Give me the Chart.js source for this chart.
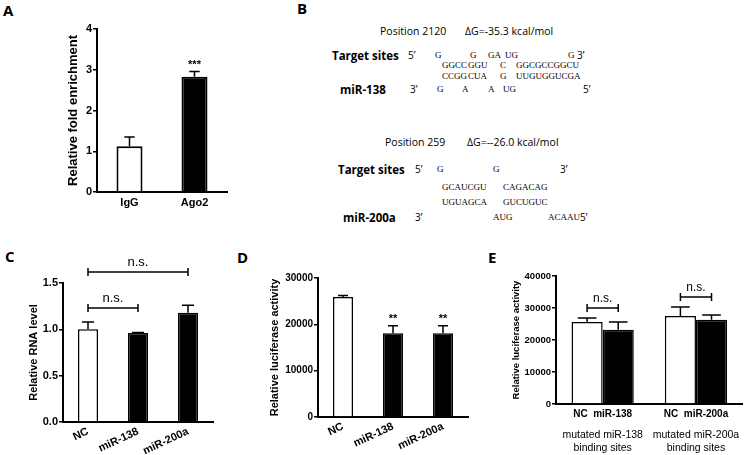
<!DOCTYPE html>
<html>
<head>
<meta charset="utf-8">
<script src="https://cdn.jsdelivr.net/npm/chart.js@4.4.0/dist/chart.umd.min.js"></script>
<style>
  body { margin: 0; background: #fff; }
  #fig { position: relative; width: 750px; height: 455px; overflow: hidden; }
  canvas { position: absolute; }
  .t { position: absolute; white-space: pre; color: #000; line-height: 1; transform: translateY(-50%); }
  .panel { font: bold 15px 'Open Sans', sans-serif; }
  .pos { font: 10.5px 'Open Sans', sans-serif; }
  .lab { font: bold 11.5px 'Open Sans', sans-serif; }
  .end { font: 10px 'Open Sans', sans-serif; }
  .seq { font: 9px 'Liberation Serif', serif; }
</style>
</head>
<body>
<div id="fig">
  <div class="t panel" style="left:3px;top:10px">A</div>
  <div class="t panel" style="left:297px;top:8px">B</div>
  <div class="t panel" style="left:5px;top:256px">C</div>
  <div class="t panel" style="left:237px;top:257px">D</div>
  <div class="t panel" style="left:488px;top:257px">E</div>

  <!-- B: miR-138 site -->
  <div class="t pos" style="left:380px;top:31px">Position 2120</div>
  <div class="t pos" style="left:465px;top:31px">ΔG=-35.3 kcal/mol</div>
  <div class="t lab" style="left:332px;top:55px">Target sites</div>
  <div class="t end" style="left:408px;top:55px">5’</div>
  <div class="t seq" style="left:435px;top:55px">G</div>
  <div class="t seq" style="left:470px;top:55px">G</div>
  <div class="t seq" style="left:488px;top:55px">GA</div>
  <div class="t seq" style="left:505px;top:55px">UG</div>
  <div class="t seq" style="left:568px;top:55px">G</div>
  <div class="t end" style="left:577px;top:55px">3’</div>
  <div class="t seq" style="left:442px;top:65px">GGCC</div>
  <div class="t seq" style="left:468px;top:65px">GGU</div>
  <div class="t seq" style="left:500px;top:65px">C</div>
  <div class="t seq" style="left:516px;top:65px">GGCGCCGGCU</div>
  <div class="t seq" style="left:442px;top:76px">CCGG</div>
  <div class="t seq" style="left:468px;top:76px">CUA</div>
  <div class="t seq" style="left:500px;top:76px">G</div>
  <div class="t seq" style="left:516px;top:76px">UUGUGGUCGA</div>
  <div class="t lab" style="left:340px;top:89px">miR-138</div>
  <div class="t end" style="left:410px;top:89px">3’</div>
  <div class="t seq" style="left:437px;top:89px">G</div>
  <div class="t seq" style="left:462px;top:89px">A</div>
  <div class="t seq" style="left:488px;top:89px">A</div>
  <div class="t seq" style="left:503px;top:89px">UG</div>
  <div class="t end" style="left:583px;top:89px">5’</div>

  <!-- B: miR-200a site -->
  <div class="t pos" style="left:385px;top:142px">Position 259</div>
  <div class="t pos" style="left:467px;top:142px">ΔG=--26.0 kcal/mol</div>
  <div class="t lab" style="left:338px;top:169px">Target sites</div>
  <div class="t end" style="left:415px;top:169px">5’</div>
  <div class="t seq" style="left:437px;top:169px">G</div>
  <div class="t seq" style="left:493px;top:169px">G</div>
  <div class="t end" style="left:560px;top:169px">3’</div>
  <div class="t seq" style="left:442px;top:187px">GCAUCGU</div>
  <div class="t seq" style="left:503px;top:187px">CAGACAG</div>
  <div class="t seq" style="left:442px;top:202px">UGUAGCA</div>
  <div class="t seq" style="left:503px;top:202px">GUCUGUC</div>
  <div class="t lab" style="left:343px;top:217px">miR-200a</div>
  <div class="t end" style="left:415px;top:217px">3’</div>
  <div class="t seq" style="left:493px;top:217px">AUG</div>
  <div class="t seq" style="left:548px;top:217px">ACAAU</div>
  <div class="t end" style="left:580px;top:217px">5’</div>

  <canvas id="chartA"></canvas>
  <canvas id="chartC"></canvas>
  <canvas id="chartD"></canvas>
  <canvas id="chartE"></canvas>
</div>
<script>
const FONT = "'Liberation Sans', Arial, sans-serif";

// A: RIP enrichment
const aLabels = ['IgG', 'Ago2'];
const aValues = [1.12, 2.83];
const aErrors = [0.23, 0.13];
const aStars = ['', '***'];

// C: RNA level
const cLabels = ['NC', 'miR-138', 'miR-200a'];
const cValues = [1.0, 0.96, 1.18];
const cErrors = [0.08, 0.005, 0.08];

// D: luciferase, wild type
const dLabels = ['NC', 'miR-138', 'miR-200a'];
const dValues = [25900, 18100, 18100];
const dErrors = [300, 1600, 1600];
const dStars = ['', '**', '**'];

// E: luciferase, mutated sites
const eGroups = ['NC  miR-138', 'NC  miR-200a'];
const eNotes = [['mutated miR-138', 'binding sites'], ['mutated miR-200a', 'binding sites']];
const eNC = [25600, 27500];
const eNCErrors = [1300, 2800];
const eMiR = [23200, 26300];
const eMiRErrors = [2400, 1500];

// error bars, stars and n.s. brackets
const marks = {
  id: 'marks',
  afterDatasetsDraw(chart, args, opts) {
    const ctx = chart.ctx;
    const y = chart.scales.y;
    ctx.save();
    ctx.strokeStyle = '#000';
    ctx.fillStyle = '#000';
    ctx.lineWidth = 1.5;
    ctx.textAlign = 'center';
    ctx.textBaseline = 'bottom';
    chart.data.datasets.forEach((ds, di) => {
      const errs = opts.errors[di];
      chart.getDatasetMeta(di).data.forEach((bar, i) => {
        const top = y.getPixelForValue(ds.data[i] + errs[i]);
        const half = bar.width * opts.cap / 2;
        ctx.beginPath();
        ctx.moveTo(bar.x, bar.y);
        ctx.lineTo(bar.x, top);
        ctx.moveTo(bar.x - half, top);
        ctx.lineTo(bar.x + half, top);
        ctx.stroke();
        const star = opts.stars && opts.stars[di] && opts.stars[di][i];
        if (star) {
          ctx.font = 'bold 11px ' + FONT;
          ctx.fillText(star, bar.x, top - 1);
        }
      });
    });
    (opts.brackets || []).forEach(b => {
      const x1 = chart.getDatasetMeta(b.from[0]).data[b.from[1]].x;
      const x2 = chart.getDatasetMeta(b.to[0]).data[b.to[1]].x;
      const yy = y.getPixelForValue(b.at);
      ctx.beginPath();
      ctx.moveTo(x1, yy);
      ctx.lineTo(x2, yy);
      ctx.moveTo(x1, yy - 4);
      ctx.lineTo(x1, yy + 4);
      ctx.moveTo(x2, yy - 4);
      ctx.lineTo(x2, yy + 4);
      ctx.stroke();
      ctx.font = opts.bracketFont;
      ctx.fillText('n.s.', (x1 + x2) / 2, yy - 3);
    });
    ctx.restore();
  }
};

function yScale(max, step, title, titleSize, tickSize, width, fmt) {
  return {
    min: 0,
    max: max,
    ticks: { stepSize: step, color: '#000', padding: 1, font: { family: FONT, weight: 'bold', size: tickSize }, callback: fmt || (v => String(v)) },
    grid: { display: true, drawOnChartArea: false, drawTicks: true, tickLength: 4, color: '#000', lineWidth: 1.5 },
    border: { display: true, color: '#000', width: 2 },
    title: { display: true, text: title, color: '#000', padding: { top: 4, bottom: 0 }, font: { family: FONT, weight: 'bold', size: titleSize } },
    afterFit: s => { s.width = width; }
  };
}

function xScale(height, tickSize, rotation, padding) {
  return {
    ticks: { color: '#000', padding: padding, autoSkip: false, minRotation: rotation, maxRotation: rotation, font: { family: FONT, weight: 'bold', size: tickSize } },
    grid: { display: false, drawTicks: false },
    border: { display: true, color: '#000', width: 2 },
    afterFit: s => { s.height = height; }
  };
}

function makeChart(id, box, pad, data, scales, markOpts) {
  const canvas = document.getElementById(id);
  canvas.width = box[2];
  canvas.height = box[3];
  canvas.style.left = box[0] + 'px';
  canvas.style.top = box[1] + 'px';
  canvas.style.width = box[2] + 'px';
  canvas.style.height = box[3] + 'px';
  return new Chart(canvas, {
    type: 'bar',
    data: data,
    plugins: [marks],
    options: {
      responsive: false,
      animation: false,
      devicePixelRatio: 1,
      layout: { padding: { left: 0, top: pad[0], right: pad[1], bottom: 0 } },
      scales: scales,
      plugins: { legend: { display: false }, tooltip: { enabled: false }, marks: markOpts }
    }
  });
}

const whiteBar = { backgroundColor: '#fff', borderColor: '#000', borderWidth: 1.5 };
const blackBar = { backgroundColor: '#000', borderColor: '#000', borderWidth: 1.5 };

makeChart('chartA', [62, 10, 178, 205], [19, 13], {
  labels: aLabels,
  datasets: [{
    data: aValues,
    backgroundColor: ['#fff', '#000'],
    borderColor: '#000',
    borderWidth: 2,
    categoryPercentage: 0.4,
    barPercentage: 1
  }]
}, {
  x: xScale(23, 11, 0, 4),
  y: yScale(4, 1, 'Relative fold enrichment', 13, 11, 35)
}, { errors: [aErrors], stars: [aStars], cap: 0.4 });

makeChart('chartC', [23, 245, 212, 210], [38, 22], {
  labels: cLabels,
  datasets: [{
    data: cValues,
    backgroundColor: ['#fff', '#000', '#000'],
    borderColor: '#000',
    borderWidth: 1.5,
    categoryPercentage: 0.4,
    barPercentage: 1
  }]
}, {
  x: xScale(33, 11, 25, 3),
  y: yScale(1.5, 0.5, 'Relative RNA level', 11, 11, 40, v => v.toFixed(1))
}, {
  errors: [cErrors], cap: 0.6, bracketFont: '13px ' + FONT,
  brackets: [
    { from: [0, 0], to: [0, 2], at: 1.62 },
    { from: [0, 0], to: [0, 1], at: 1.23 }
  ]
});

makeChart('chartD', [264, 245, 221, 210], [33, 17], {
  labels: dLabels,
  datasets: [{
    data: dValues,
    backgroundColor: ['#fff', '#000', '#000'],
    borderColor: '#000',
    borderWidth: 1.5,
    categoryPercentage: 0.4,
    barPercentage: 1
  }]
}, {
  x: xScale(38, 11, 25, 3),
  y: yScale(30000, 10000, 'Relative luciferase activity', 11, 10, 54)
}, { errors: [dErrors], stars: [dStars], cap: 0.5 });

const eX = xScale(16, 10, 0, 4);
eX.weight = 0;
makeChart('chartE', [507, 245, 243, 210], [31, 2], {
  labels: eGroups,
  datasets: [
    Object.assign({ data: eNC, xAxisID: 'x', categoryPercentage: 2 / 3, barPercentage: 1 }, whiteBar),
    Object.assign({ data: eMiR, xAxisID: 'x', categoryPercentage: 2 / 3, barPercentage: 1 }, blackBar)
  ]
}, {
  x: eX,
  x2: {
    type: 'category',
    position: 'bottom',
    labels: eNotes,
    offset: true,
    weight: 1,
    grid: { display: false, drawTicks: false },
    border: { display: false },
    ticks: { color: '#000', padding: 9, maxRotation: 0, font: { family: FONT, size: 10.5 } },
    afterFit: s => { s.height = 35; }
  },
  y: yScale(40000, 10000, 'Relative luciferase activity', 9.5, 9.5, 49)
}, {
  errors: [eNCErrors, eMiRErrors], cap: 0.6, bracketFont: '12px ' + FONT,
  brackets: [
    { from: [0, 0], to: [1, 0], at: 30000 },
    { from: [0, 1], to: [1, 1], at: 33400 }
  ]
});
</script>
</body>
</html>
